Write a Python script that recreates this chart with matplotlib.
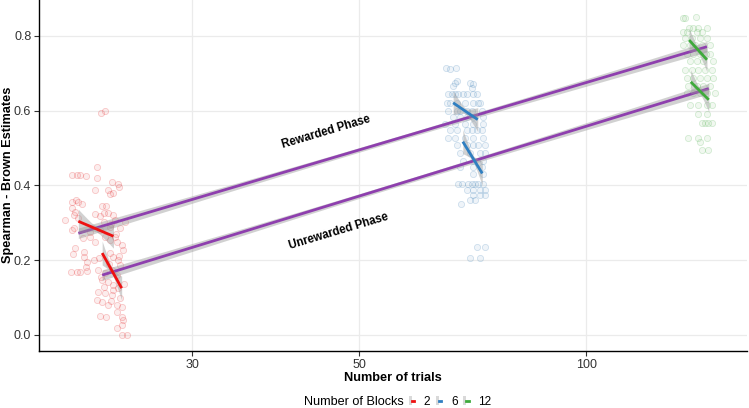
import numpy as np
import matplotlib
matplotlib.use("Agg")
import matplotlib.pyplot as plt
from matplotlib.patches import Patch
from matplotlib.lines import Line2D
from matplotlib.legend_handler import HandlerTuple
from matplotlib.ticker import FixedLocator, NullLocator

plt.rcParams['font.family'] = ['Liberation Sans', 'DejaVu Sans']

# ---------------- data ----------------
blocks = ["2", "6", "12"]
x_ticks = [30, 50, 100]
x_tick_labels = ["30", "50", "100"]
y_ticks = [0.0, 0.2, 0.4, 0.6, 0.8]
y_tick_labels = ["0.0", "0.2", "0.4", "0.6", "0.8"]

trials_2 = [22.7, 23.0, 22.45, 22.45, 20.8, 21.1, 21.3, 21.7, 22.3, 23.2, 23.35, 23.6,
            23.5, 23.9, 24.0, 20.8, 21.05, 21.2, 21.45, 22.8, 23.1, 20.8, 20.9,
            22.3, 22.65, 22.9, 23.2, 23.6, 21.0, 21.2, 23.7, 20.35, 24.45, 24.1, 23.35,
            22.65, 21.97, 20.8, 20.9, 21.0, 20.85, 21.6, 21.6, 21.8, 21.7, 21.3, 21.8,
            20.7, 21.1, 22.3, 22.25, 23.0, 23.35, 23.7, 23.85, 24.2, 24.3, 23.35, 23.55,
            23.9, 24.1, 22.5, 23.0, 23.5, 23.85, 22.8, 23.2, 23.55, 23.9, 22.5, 23.0,
            23.5, 24.1, 22.45, 22.8, 23.2, 23.85, 24.2, 22.65, 23.1, 23.85, 24.2, 24.3,
            24.2, 23.85, 24.2, 24.6,
            22.9, 23.4, 23.8, 22.6, 23.3, 24.0, 22.9, 23.6, 22.7, 23.4, 24.4, 21.5, 22.0]
est_2 = [0.595, 0.600, 0.448, 0.421, 0.429, 0.429, 0.429, 0.424, 0.389, 0.387, 0.376, 0.381,
         0.408, 0.405, 0.397, 0.355, 0.360, 0.355, 0.349, 0.344, 0.344, 0.339, 0.320,
         0.323, 0.317, 0.325, 0.325, 0.320, 0.328, 0.313, 0.308, 0.307, 0.301, 0.285, 0.290,
         0.280, 0.275, 0.280, 0.285, 0.232, 0.216, 0.221, 0.208, 0.195, 0.182, 0.168, 0.171,
         0.168, 0.168, 0.248, 0.200, 0.261, 0.253, 0.261, 0.248, 0.240, 0.227, 0.219, 0.208,
         0.200, 0.187, 0.173, 0.165, 0.173, 0.160, 0.147, 0.141, 0.133, 0.125, 0.115, 0.112,
         0.107, 0.099, 0.093, 0.088, 0.080, 0.080, 0.075, 0.051, 0.048, 0.061, 0.048, 0.040,
         0.027, 0.019, 0.000, 0.000,
         0.302, 0.296, 0.270, 0.205, 0.190, 0.212, 0.128, 0.120, 0.155, 0.090, 0.135, 0.258, 0.262]

trials_6 = [65.15, 65.95, 67.17, 66.97, 66.57, 67.39, 70.12, 70.76, 70.55,
            65.55, 66.35, 66.97, 67.59, 68.63, 69.47, 70.76, 71.61,
            65.35, 65.95, 67.39, 69.06, 70.76, 71.83, 72.28,
            65.55, 67.39, 68.00, 69.47, 70.55, 72.72,
            66.57, 68.00, 69.47, 70.76, 72.94,
            64.95, 66.97, 69.06, 70.76, 72.94,
            65.95, 67.39, 69.47, 70.55, 71.61, 72.72,
            65.55, 66.97, 69.06, 70.76, 72.94,
            67.39, 69.47, 70.76, 71.83, 73.39,
            68.00, 70.12, 72.28, 73.39,
            68.63, 70.76, 72.94,
            68.00, 70.76, 72.72,
            70.76, 72.94,
            67.59, 68.40, 69.70, 70.55, 71.19, 71.83, 72.94,
            69.47, 70.76, 72.28, 73.39,
            70.76, 72.28, 73.39,
            70.12, 71.19,
            68.22, 71.61, 73.39, 70.12, 72.28]
est_6 = [0.715, 0.712, 0.715, 0.675, 0.667, 0.680, 0.675, 0.672, 0.661,
         0.645, 0.645, 0.645, 0.645, 0.645, 0.645, 0.645, 0.645,
         0.620, 0.620, 0.620, 0.620, 0.620, 0.620, 0.620,
         0.600, 0.600, 0.600, 0.600, 0.600, 0.600,
         0.584, 0.584, 0.584, 0.584, 0.584,
         0.565, 0.565, 0.565, 0.565, 0.565,
         0.547, 0.547, 0.547, 0.547, 0.547, 0.547,
         0.528, 0.528, 0.528, 0.528, 0.528,
         0.507, 0.507, 0.507, 0.507, 0.507,
         0.488, 0.488, 0.488, 0.488,
         0.464, 0.464, 0.464,
         0.448, 0.448, 0.448,
         0.430, 0.430,
         0.405, 0.405, 0.405, 0.405, 0.405, 0.405, 0.405,
         0.389, 0.389, 0.389, 0.389,
         0.373, 0.373, 0.373,
         0.360, 0.360,
         0.349, 0.235, 0.235, 0.205, 0.205]

trials_12 = [134.3, 135.4, 139.7,
             136.8, 138.4, 140.6, 144.6,
             134.3, 135.9, 140.1, 142.3,
             135.1, 138.0, 141.5, 144.6,
             134.3, 137.2, 139.3, 145.9, 142.3,
             135.9, 138.4, 141.5, 145.9, 144.1,
             137.2, 140.1, 142.8, 147.2,
             135.1, 138.0, 140.6, 143.7, 146.8,
             135.9, 138.4, 141.5, 144.6, 147.2,
             136.3, 140.1, 142.8, 145.9,
             135.9, 138.4, 141.5, 144.6, 148.1,
             137.2, 140.6, 144.6, 146.8,
             140.6, 144.6,
             142.3, 143.7, 146.8, 145.0,
             136.3, 140.6, 144.6,
             141.5,
             142.3, 145.0]
est_12 = [0.848, 0.848, 0.851,
          0.820, 0.820, 0.820, 0.820,
          0.810, 0.810, 0.810, 0.810,
          0.795, 0.795, 0.795, 0.795,
          0.776, 0.776, 0.776, 0.776, 0.776,
          0.752, 0.752, 0.752, 0.752, 0.752,
          0.733, 0.733, 0.733, 0.733,
          0.709, 0.709, 0.709, 0.709, 0.709,
          0.688, 0.688, 0.688, 0.688, 0.688,
          0.667, 0.667, 0.667, 0.667,
          0.648, 0.648, 0.648, 0.648, 0.648,
          0.616, 0.616, 0.616, 0.616,
          0.592, 0.592,
          0.568, 0.568, 0.568, 0.568,
          0.528, 0.528, 0.528,
          0.515,
          0.496, 0.496]

# fitted lines per block (endpoints) for each phase
rew_fit_trials = {"2": [21.2, 23.6], "6": [66.6, 71.8], "12": [136.9, 144.6]}
rew_fit_est = {"2": [0.304, 0.264], "6": [0.621, 0.576], "12": [0.789, 0.736]}
unrew_fit_trials = {"2": [22.8, 24.2], "6": [68.6, 72.8], "12": [137.6, 145.4]}
unrew_fit_est = {"2": [0.219, 0.125], "6": [0.517, 0.432], "12": [0.677, 0.629]}

# overall fitted lines
overall_rew_trials = [21.2, 144.6]
overall_rew_est = [0.272, 0.771]
overall_unrew_trials = [22.8, 145.4]
overall_unrew_est = [0.160, 0.659]

# ---------------- styling ----------------
point_colors = {"2": "#E41A1C", "6": "#377EB8", "12": "#4DAF4A"}
line_colors = {"2": "#EE1111", "6": "#2F7FC1", "12": "#3FAA3C"}
purple = "#8E3FAE"
band_color = "#9A9A9A"

fig = plt.figure(figsize=(7.49, 4.08), dpi=100)
ax = fig.add_axes([39 / 749, 1 - 351 / 408, (747 - 39) / 749, 351 / 408])
ax.set_xscale("log")
ax.set_xlim(18.80, 163.4)
ax.set_ylim(-0.043, 0.896)

ax.xaxis.set_major_locator(FixedLocator(x_ticks))
ax.xaxis.set_minor_locator(NullLocator())
ax.set_xticklabels(x_tick_labels)
ax.set_yticks(y_ticks)
ax.set_yticklabels(y_tick_labels)

ax.grid(True, color="#EBEBEB", lw=0.9, zorder=0)
ax.set_axisbelow(True)
for s in ["top", "right"]:
    ax.spines[s].set_visible(False)
for s in ["left", "bottom"]:
    ax.spines[s].set_color("black")
    ax.spines[s].set_linewidth(1.0)
ax.tick_params(axis="both", length=3.5, width=0.8, color="#333333",
               labelsize=9, labelcolor="#333333", pad=2)

# points
for b, xs, ys in [("2", trials_2, est_2), ("6", trials_6, est_6), ("12", trials_12, est_12)]:
    c = matplotlib.colors.to_rgb(point_colors[b])
    ax.scatter(xs, ys, s=20, facecolor=(*c, 0.08), edgecolor=(*c, 0.22),
               linewidth=0.6, zorder=2)


def band(xs, ys, half_mid, half_end, n=60):
    lx = np.log10(xs)
    t = np.linspace(-1, 1, n)
    lxx = (lx[0] + lx[1]) / 2 + t * (lx[1] - lx[0]) / 2
    yy = ys[0] + (t + 1) / 2 * (ys[1] - ys[0])
    hw = np.sqrt(half_mid ** 2 + (half_end ** 2 - half_mid ** 2) * t ** 2)
    return 10 ** lxx, yy - hw, yy + hw


# overall lines
for xs, ys in [(overall_rew_trials, overall_rew_est), (overall_unrew_trials, overall_unrew_est)]:
    bx, lo, hi = band(xs, ys, 0.006, 0.014)
    ax.fill_between(bx, lo, hi, color=band_color, alpha=0.45, lw=0, zorder=3)
    ax.plot(xs, ys, color=purple, lw=2.0, zorder=4, solid_capstyle="butt")

# per-block lines
for b in blocks:
    for fx, fy in [(rew_fit_trials[b], rew_fit_est[b]), (unrew_fit_trials[b], unrew_fit_est[b])]:
        bx, lo, hi = band(fx, fy, 0.008, 0.032)
        ax.fill_between(bx, lo, hi, color=band_color, alpha=0.45, lw=0, zorder=5)
        ax.plot(fx, fy, color=line_colors[b], lw=2.0, zorder=6, solid_capstyle="butt")

# phase annotations
ax.text(45.2, 0.5415, "Rewarded Phase", rotation=16.6, rotation_mode="anchor",
        ha="center", va="center", fontsize=8.3, fontweight="bold", color="black", zorder=7)
ax.text(46.9, 0.278, "Unrewarded Phase", rotation=16.6, rotation_mode="anchor",
        ha="center", va="center", fontsize=8.3, fontweight="bold", color="black", zorder=7)

# axis titles
fig.text(393 / 749, 1 - 378 / 408, "Number of trials", ha="center", va="center",
         fontsize=9.2, fontweight="bold")
fig.text(8 / 749, 1 - 175 / 408, "Spearman - Brown Estimates", ha="center", va="center",
         rotation=90, fontsize=9.2, fontweight="bold")

# legend
fig.text(304 / 749, 1 - 402 / 408, "Number of Blocks", ha="left", va="center", fontsize=9.1)
handles = [(Patch(facecolor="#D9D9D9", edgecolor="none"),
            Line2D([], [], color=line_colors[b], lw=2.0)) for b in blocks]
fig.legend(handles, blocks, handler_map={tuple: HandlerTuple(ndivide=None)},
           loc="center left", bbox_to_anchor=(409 / 749, 1 - 402 / 408), ncol=3,
           frameon=False, fontsize=8.5, handlelength=0.45, handleheight=0.8,
           handletextpad=0.8, columnspacing=0.5, borderpad=0, borderaxespad=0)

fig.savefig("out.png", dpi=100)
